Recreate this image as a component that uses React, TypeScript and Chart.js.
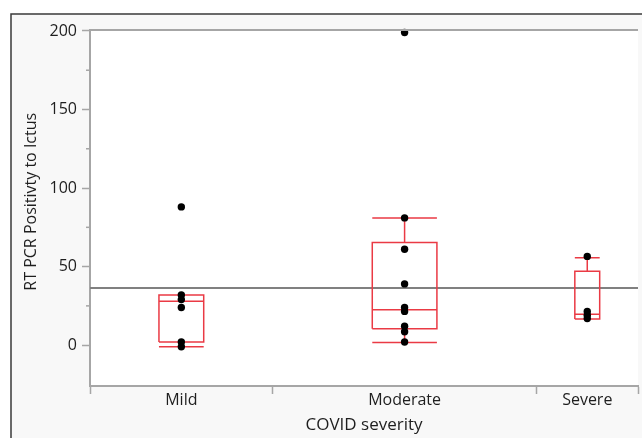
import React, { useEffect, useRef } from "react";
import { Chart, registerables } from "chart.js";
Chart.register(...registerables);

// ---- data ----
const categories = ["Mild", "Moderate", "Severe"];
const groupSizes = [9, 13, 5];
const mildPoints = [88, 32, 29, 24, 2, -1];
const moderatePoints = [199, 81, 61, 39, 24, 21.5, 12, 8.5, 2];
const severePoints = [56.5, 21.5, 19, 17];
const whiskerLow = [-1, 1.7, 16.6];
const quartile1 = [2, 10.4, 16.6];
const medians = [28, 22.5, 19.7];
const quartile3 = [32, 65.4, 47];
const whiskerHigh = [32, 81, 55.6];
const grandMean = 36.3;
const yTickValues = [0, 25, 50, 75, 100, 125, 150, 175, 200];
const yMajorStep = 50;

// ---- style ----
const FONT = "'Open Sans', 'Noto Sans', sans-serif";
const TEXT = "#1e1e1e";
const AXIS = "#a6a6a6";
const RED = "#ea3a44";
const BOX_FRAC = 0.245;

export default function App() {
  const ref = useRef<HTMLCanvasElement | null>(null);

  useEffect(() => {
    document.body.style.margin = "0";
    const canvas = ref.current;
    if (!canvas) return;

    const groupPoints = [mildPoints, moderatePoints, severePoints];
    const bounds: number[] = [0];
    groupSizes.forEach((n, i) => bounds.push(bounds[i] + n));
    const centers = groupSizes.map((n, i) => bounds[i] + n / 2);
    const total = bounds[bounds.length - 1];

    const pts: { x: number; y: number }[] = [];
    groupPoints.forEach((arr, i) => arr.forEach((v) => pts.push({ x: centers[i], y: v })));

    const boxData: any[] = [];
    categories.forEach((_, i) => {
      const c = centers[i];
      const h = (groupSizes[i] * BOX_FRAC) / 2;
      const L = c - h, R = c + h;
      const gap = { x: c, y: null };
      boxData.push(
        { x: L, y: quartile1[i] }, { x: R, y: quartile1[i] }, { x: R, y: quartile3[i] }, { x: L, y: quartile3[i] }, { x: L, y: quartile1[i] }, gap,
        { x: L, y: medians[i] }, { x: R, y: medians[i] }, gap,
        { x: c, y: quartile3[i] }, { x: c, y: whiskerHigh[i] }, gap,
        { x: L, y: whiskerHigh[i] }, { x: R, y: whiskerHigh[i] }, gap,
        { x: c, y: quartile1[i] }, { x: c, y: whiskerLow[i] }, gap,
        { x: L, y: whiskerLow[i] }, { x: R, y: whiskerLow[i] }, gap
      );
    });

    const labelAt: Record<string, string> = {};
    centers.forEach((c, i) => (labelAt[String(c)] = categories[i]));

    const framePlugin = {
      id: "frame",
      beforeDraw(chart: any) {
        const { ctx, chartArea: a, width, height } = chart;
        ctx.save();
        ctx.fillStyle = "#ffffff";
        ctx.fillRect(0, 0, width, height);
        ctx.fillStyle = "#f8f8f8";
        ctx.fillRect(11, 14, width - 11, height - 14);
        ctx.strokeStyle = "#3a3a3a";
        ctx.lineWidth = 1.5;
        ctx.beginPath();
        ctx.moveTo(11, height);
        ctx.lineTo(11, 14);
        ctx.lineTo(width, 14);
        ctx.stroke();
        ctx.fillStyle = "#ffffff";
        ctx.fillRect(a.left, a.top, a.right - a.left, a.bottom - a.top);
        ctx.restore();
      },
      afterDraw(chart: any) {
        const { ctx, chartArea: a, scales } = chart;
        ctx.save();
        ctx.strokeStyle = AXIS;
        ctx.lineWidth = 2;
        ctx.beginPath();
        ctx.moveTo(a.left, a.top);
        ctx.lineTo(a.right, a.top);
        ctx.stroke();
        ctx.lineWidth = 1.5;
        yTickValues.forEach((v) => {
          if (v % yMajorStep !== 0) {
            const y = scales.y.getPixelForValue(v);
            ctx.beginPath();
            ctx.moveTo(a.left - 4, y);
            ctx.lineTo(a.left, y);
            ctx.stroke();
          }
        });
        ctx.restore();
      },
    };

    const chart = new Chart(canvas, {
      type: "scatter",
      data: {
        datasets: [
          {
            data: pts,
            backgroundColor: "#000000",
            borderWidth: 0,
            pointRadius: 3.7,
            order: 0,
            clip: false,
          } as any,
          {
            data: boxData,
            showLine: true,
            spanGaps: false,
            borderColor: RED,
            borderWidth: 1.5,
            pointRadius: 0,
            order: 1,
          } as any,
          {
            data: [
              { x: 0, y: grandMean },
              { x: total, y: grandMean },
            ],
            showLine: true,
            borderColor: "#808080",
            borderWidth: 2,
            pointRadius: 0,
            order: 2,
          } as any,
        ],
      },
      options: {
        responsive: false,
        animation: false,
        events: [],
        layout: { padding: { top: 30, left: 0, right: 0, bottom: 0 } },
        plugins: { legend: { display: false }, tooltip: { enabled: false } },
        scales: {
          x: {
            type: "linear",
            min: 0,
            max: total,
            afterFit: (s: any) => {
              s.height = 52;
            },
            afterBuildTicks: (s: any) => {
              const vals = [...bounds, ...centers].sort((a, b) => a - b);
              s.ticks = vals.map((v) => ({ value: v }));
            },
            border: { display: true, color: AXIS, width: 2 },
            grid: {
              drawOnChartArea: false,
              drawTicks: true,
              tickLength: 8,
              tickWidth: 1.5,
              tickColor: (ctx: any) =>
                ctx.tick && bounds.includes(ctx.tick.value) ? AXIS : "rgba(0,0,0,0)",
            },
            ticks: {
              autoSkip: false,
              maxRotation: 0,
              padding: -3,
              color: TEXT,
              font: { family: FONT, size: 16 },
              callback: (v: any) => labelAt[String(v)] || "",
            },
            title: {
              display: true,
              text: "COVID severity",
              color: TEXT,
              font: { family: FONT, size: 17 },
              padding: { top: 0, bottom: 3 },
            },
          },
          y: {
            type: "linear",
            min: -26,
            max: 200.6,
            afterFit: (s: any) => {
              s.width = 90;
            },
            afterBuildTicks: (s: any) => {
              s.ticks = yTickValues.map((v) => ({ value: v }));
            },
            border: { display: true, color: AXIS, width: 2 },
            grid: {
              drawOnChartArea: false,
              tickLength: 8,
              tickWidth: 1.5,
              tickColor: (ctx: any) =>
                ctx.tick && ctx.tick.value % yMajorStep === 0 ? AXIS : "rgba(0,0,0,0)",
            },
            ticks: {
              autoSkip: false,
              padding: 5,
              color: TEXT,
              font: { family: FONT, size: 16 },
              callback: (v: any) => (Number(v) % yMajorStep === 0 ? String(v) : ""),
            },
            title: {
              display: true,
              text: "   RT PCR Positivty to Ictus",
              color: TEXT,
              font: { family: FONT, size: 16 },
              padding: { top: 22, bottom: 0 },
            },
          },
        },
      },
      plugins: [framePlugin],
    });

    return () => chart.destroy();
  }, []);

  return (
    <div style={{ position: "absolute", left: 0, top: 0 }}>
      <canvas ref={ref} width={642} height={438} style={{ display: "block" }} />
    </div>
  );
}
